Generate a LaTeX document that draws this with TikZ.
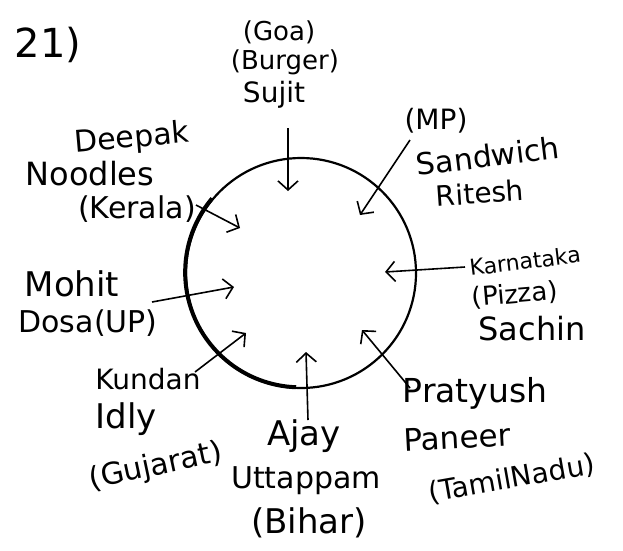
\documentclass[tikz,border=0pt]{standalone}
\usepackage{fontspec}
\setmainfont{DejaVu Sans}
\usetikzlibrary{arrows.meta}
\begin{document}
\begin{tikzpicture}[x=1pt,y=-1pt,
  lbl/.style={inner sep=0pt, font=\fontsize{#1}{#1}\selectfont},
  lbl/.default=32,
  ring/.style={circle, draw, line width=2.2pt, minimum size=230pt, inner sep=0pt},
  ptr/.style={line width=1.6pt, -{Straight Barb[length=9pt,width=20pt]}}]
\useasboundingbox (0,0) rectangle (623,550);
\fill[white] (0,0) rectangle (623,550);

% ring
\node[ring] (ring) at (301,273) {};
\draw[line width=4pt] (ring.140) arc[start angle=140, end angle=268, radius=115pt];

% title
\node[lbl=40] (title) at (48,45) {21)};

% Sujit
\node[lbl=26] (goa) at (279,32) {(Goa)};
\node[lbl=26] (burger) at (285,62) {(Burger)};
\node[lbl=28] (sujit) at (274,95) {Sujit};
% Ritesh
\node[lbl=28] (mp) at (436,121) {(MP)};
\node[lbl=30, rotate=7] (sandwich) at (488,156) {Sandwich};
\node[lbl=28, rotate=4] (ritesh) at (480,193) {Ritesh};
% Deepak
\node[lbl=30, rotate=5] (deepak) at (132,139) {Deepak};
\node[lbl=32] (noodles) at (90,174) {Noodles};
\node[lbl=30] (kerala) at (137,209) {(Kerala)};
% Sachin
\node[lbl=22, rotate=7] (karnataka) at (525,261) {Karnataka};
\node[lbl=26, rotate=5] (pizza) at (515,295) {(Pizza)};
\node[lbl=32] (sachin) at (532,329) {Sachin};
% Mohit
\node[lbl=34] (mohit) at (72,284) {Mohit};
\node[lbl=30] (dosa) at (88,323) {Dosa(UP)};
% Kundan
\node[lbl=28] (kundan) at (148,379) {Kundan};
\node[lbl=34] (idly) at (126,419) {Idly};
\node[lbl=30, rotate=12] (gujarat) at (156,467) {(Gujarat)};
% Ajay
\node[lbl=34] (ajay) at (304,436) {Ajay};
\node[lbl=30] (uttappam) at (306,481) {Uttappam};
\node[lbl=34] (bihar) at (309,523) {(Bihar)};
% Pratyush
\node[lbl=33] (pratyush) at (475,393) {Pratyush};
\node[lbl=31, rotate=3] (paneer) at (457,438) {Paneer};
\node[lbl=28, rotate=10] (tamil) at (512,479) {(TamilNadu)};

% arrow ends
\coordinate (sujitS) at (288,128);   \coordinate (sujitE) at (288,191);
\coordinate (riteshS) at (410,140);  \coordinate (riteshE) at (360,215);
\coordinate (deepakS) at (196,205);  \coordinate (deepakE) at (240,228);
\coordinate (sachinS) at (465,267);  \coordinate (sachinE) at (385,272);
\coordinate (mohitS) at (152,302);   \coordinate (mohitE) at (234,287);
\coordinate (kundanS) at (195,372);  \coordinate (kundanE) at (246,333);
\coordinate (ajayS) at (308,420);    \coordinate (ajayE) at (306,352);
\coordinate (pratS) at (410,388);    \coordinate (pratE) at (362,330);

\draw[ptr] (sujitS) -- (sujitE);
\draw[ptr] (riteshS) -- (riteshE);
\draw[ptr] (deepakS) -- (deepakE);
\draw[ptr] (sachinS) -- (sachinE);
\draw[ptr] (mohitS) -- (mohitE);
\draw[ptr] (kundanS) -- (kundanE);
\draw[ptr] (ajayS) -- (ajayE);
\draw[ptr] (pratS) -- (pratE);
\end{tikzpicture}
\end{document}
